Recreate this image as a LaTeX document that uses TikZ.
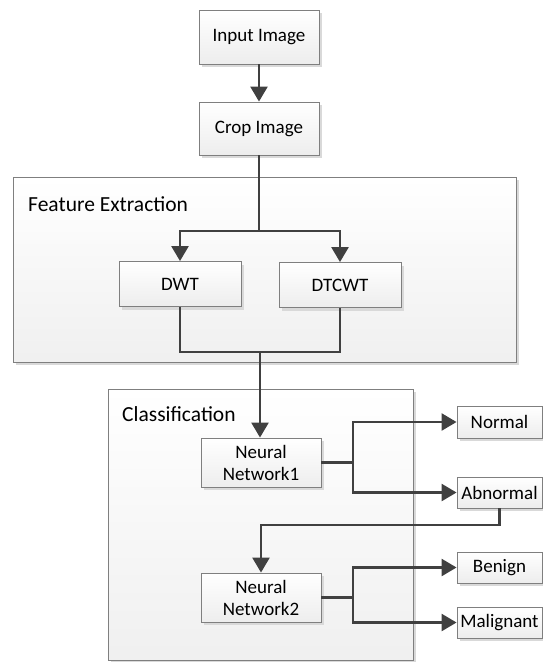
\documentclass[tikz,border=0pt]{standalone}
\usepackage{fontspec}
\setmainfont{Carlito}
\usetikzlibrary{arrows.meta,shadows}
\definecolor{linec}{HTML}{404040}
\definecolor{edgec}{HTML}{7F7F7F}
\definecolor{shadc}{HTML}{D9D9D9}
\tikzset{
  boxbase/.style={draw=edgec, line width=0.9pt, top color=white, bottom color=black!7,
    drop shadow={shadow xshift=3pt, shadow yshift=-3pt, fill=shadc, opacity=1},
    inner sep=0pt, align=center, font=\fontsize{19}{22}\selectfont},
  groupbox/.style={draw=edgec, line width=0.9pt, top color=white, bottom color=black!6,
    drop shadow={shadow xshift=3pt, shadow yshift=-3pt, fill=shadc, opacity=1}},
  grouplabel/.style={anchor=west, inner sep=0pt, font=\fontsize{21.5}{24}\selectfont},
  conn/.style={draw=linec, line width=2.6pt},
  arr/.style={conn, -{Triangle[length=15pt,width=17pt]}},
}
\begin{document}
\begin{tikzpicture}[x=1pt,y=-1pt]
\useasboundingbox (0,0) rectangle (543,662);
% groups
\node[groupbox, minimum width=503pt, minimum height=185pt, inner sep=0pt] (fe) at (264.5,269.5) {};
\node[grouplabel] (felab) at (28,204) {Feature Extraction};
\node[groupbox, minimum width=305pt, minimum height=271pt, inner sep=0pt] (cl) at (260.5,524.5) {};
\node[grouplabel] (cllab) at (122,414) {Classification};
% steps
\node[boxbase, minimum width=120pt, minimum height=54pt] (inp) at (259,37) {Input Image};
\node[boxbase, minimum width=120pt, minimum height=53pt] (crop) at (259,128.5) {Crop Image};
\node[boxbase, minimum width=122pt, minimum height=45pt] (dwt) at (180,284) {DWT};
\node[boxbase, minimum width=122pt, minimum height=45pt] (dtcwt) at (340,285) {DTCWT};
\node[boxbase, minimum width=120pt, minimum height=49pt] (nn1) at (261,462.5) {Neural\\Network1};
\node[boxbase, minimum width=120pt, minimum height=49pt] (nn2) at (261,597.5) {Neural\\Network2};
\node[boxbase, minimum width=85pt, minimum height=32pt] (normal) at (499.5,422) {Normal};
\node[boxbase, minimum width=85pt, minimum height=31pt] (abn) at (499.5,492.5) {Abnormal};
\node[boxbase, minimum width=85pt, minimum height=31pt] (ben) at (499.5,567.5) {Benign};
\node[boxbase, minimum width=85pt, minimum height=31pt] (mal) at (499.5,622.5) {Malignant};
% junction points
\coordinate (split) at (259,231);
\coordinate (merge) at (260,352);
\coordinate (j1) at (353,462.5);
\coordinate (j2) at (353,597.5);
% connectors
\draw[arr] (inp) -- (crop);
\draw[conn] (crop.south) -- (split);
\draw[arr] (split) -| (dwt.north);
\draw[arr] (split) -| (dtcwt.north);
\draw[conn] (dwt.south) |- (merge) -| (dtcwt.south);
\draw[arr] (merge) -- (merge |- nn1.north);
\draw[conn] (nn1.east) -- (j1);
\draw[arr] (j1) |- (normal.west);
\draw[arr] (j1) |- (abn.west);
\draw[arr] (abn.south) |- (261,525) -- (nn2.north);
\draw[conn] (nn2.east) -- (j2);
\draw[arr] (j2) |- (ben.west);
\draw[arr] (j2) |- (mal.west);
\end{tikzpicture}
\end{document}
